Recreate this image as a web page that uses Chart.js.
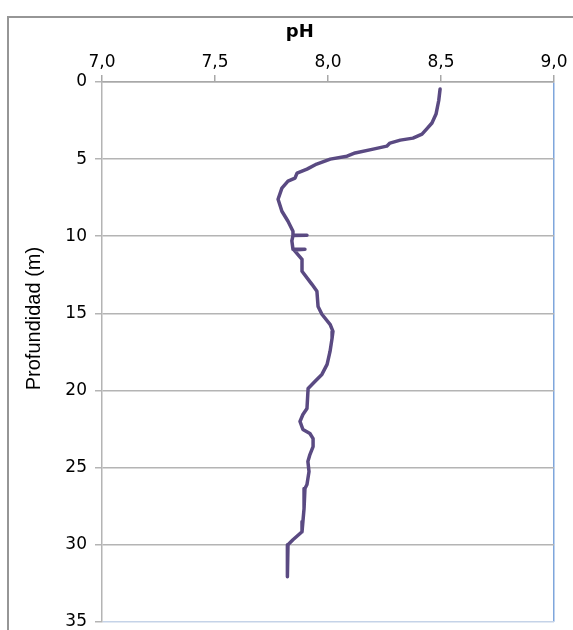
<!DOCTYPE html>
<html>
<head>
<meta charset="utf-8">
<script src="https://cdn.jsdelivr.net/npm/chart.js@4/dist/chart.umd.min.js"></script>
<style>
  html, body { margin: 0; padding: 0; background: #fff; overflow: hidden; }
  #frame { position: absolute; left: 7px; top: 16px; width: 700px; height: 700px; border: 2px solid #969696; box-sizing: border-box; }
  #wrap { position: absolute; left: 0; top: 0; width: 573px; height: 630px; overflow: hidden; }
</style>
</head>
<body>
<div id="frame"></div>
<div id="wrap"><canvas id="phChart" width="573" height="640"></canvas></div>
<script>
// depth (m) and pH read along the profile
const depth = [0.45, 1.2, 2.08, 2.66, 2.99, 3.38, 3.64, 3.77, 3.96, 4.16, 4.35, 4.6, 4.81, 5.0, 5.32, 5.65, 5.91, 6.23, 6.43, 6.88, 7.6, 8.38, 9.03, 9.68, 9.94, 9.94, 9.96, 10.3, 10.84, 10.84, 10.9, 11.5, 12.27, 13.12, 13.57, 14.55, 15.06, 15.71, 16.17, 16.62, 17.47, 18.31, 18.96, 19.42, 19.87, 21.17, 21.56, 22.01, 22.53, 22.79, 23.12, 23.64, 24.16, 24.61, 25.26, 26.1, 26.36, 27.66, 28.5, 29.16, 29.68, 30.0, 30.9, 31.3, 32.08];
const ph = [8.496, 8.49, 8.478, 8.46, 8.44, 8.416, 8.376, 8.32, 8.274, 8.26, 8.2, 8.12, 8.084, 8.01, 7.95, 7.907, 7.863, 7.854, 7.823, 7.796, 7.779, 7.796, 7.823, 7.845, 7.845, 7.907, 7.845, 7.84, 7.845, 7.898, 7.85, 7.885, 7.885, 7.929, 7.951, 7.956, 7.973, 8.009, 8.022, 8.018, 8.009, 7.996, 7.973, 7.942, 7.912, 7.907, 7.889, 7.876, 7.889, 7.92, 7.934, 7.934, 7.92, 7.911, 7.916, 7.907, 7.898, 7.894, 7.889, 7.885, 7.845, 7.823, 7.823, 7.819, 7.819];

const phTicks = [7.0, 7.5, 8.0, 8.5, 9.0];
const depthTicks = [0, 5, 10, 15, 20, 25, 30, 35];

const points = depth.map((d, i) => ({ x: ph[i], y: d }));
const tickFont = "'DejaVu Sans', sans-serif";
const titleFont = "'Liberation Sans', Arial, sans-serif";

new Chart(document.getElementById('phChart'), {
    type: 'scatter',
    data: {
        datasets: [{
            data: points,
            showLine: true,
            borderColor: '#5a4a82',
            borderWidth: 3.5,
            borderCapStyle: 'round',
            borderJoinStyle: 'round',
            pointRadius: 0,
            tension: 0
        }]
    },
    options: {
        responsive: false,
        animation: false,
        layout: { padding: { left: 14, top: 22, right: 19, bottom: 2 } },
        plugins: { legend: { display: false }, tooltip: { enabled: false } },
        scales: {
            x: {
                position: 'top',
                min: phTicks[0],
                max: phTicks[phTicks.length - 1],
                afterBuildTicks: s => { s.ticks = phTicks.map(v => ({ value: v })); },
                afterFit: s => { s.height = 60; },
                ticks: {
                    color: '#000',
                    font: { family: tickFont, size: 17 },
                    padding: 2,
                    callback: v => v.toFixed(1).replace('.', ',')
                },
                grid: {
                    drawOnChartArea: true,
                    color: ctx => (ctx.tick && ctx.tick.value === 9) ? '#7fa6dc' : 'rgba(0,0,0,0)',
                    tickColor: '#a8a8a8',
                    tickLength: 7,
                    lineWidth: 1.5
                },
                border: { display: true, color: '#a8a8a8', width: 1.5 },
                title: {
                    display: true,
                    // trailing spaces move the label left of centre
                    text: 'pH         ',
                    color: '#000',
                    font: { family: tickFont, size: 18, weight: 'bold' },
                    padding: { top: 0, bottom: 0 }
                }
            },
            y: {
                reverse: true,
                min: depthTicks[0],
                max: depthTicks[depthTicks.length - 1],
                afterBuildTicks: s => { s.ticks = depthTicks.map(v => ({ value: v })); },
                afterFit: s => { s.width = 88; },
                ticks: {
                    color: '#000',
                    font: { family: tickFont, size: 17 },
                    padding: 8
                },
                grid: {
                    color: ctx => (ctx.tick && ctx.tick.value === 35) ? '#c5d3e8' : '#b4b4b4',
                    tickColor: '#b4b4b4',
                    tickLength: 7,
                    lineWidth: 1.5
                },
                border: { display: true, color: '#b4b4b4', width: 1.5 },
                title: {
                    display: true,
                    // leading spaces push the label up, as in the original
                    text: '            Profundidad (m)',
                    color: '#000',
                    font: { family: titleFont, size: 20 },
                    padding: { top: 8, bottom: 0 }
                }
            }
        }
    }
});
</script>
</body>
</html>
